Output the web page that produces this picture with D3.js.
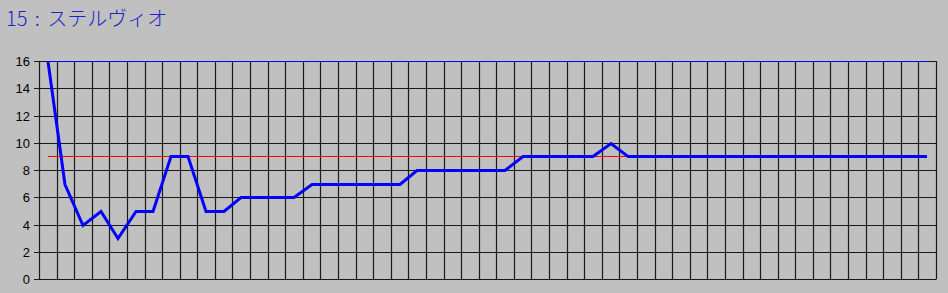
<!DOCTYPE html>
<html>
<head>
<meta charset="utf-8" />
<title>15 : ステルヴィオ</title>
<style type="text/css">
body{
	margin:0;
	background:#c0c0c0;
}
</style>
<script src="https://d3js.org/d3.v7.min.js"></script>
</head>
<body>
<div id="chart"></div>
<script>
	var title = "15 : ステルヴィオ";
	// 順位の推移
	var rank = [16,7,4,5,3,5,5,9,9,5,5,6,6,6,6,7,7,7,7,7,7,8,8,8,8,8,8,9,9,9,9,9,10,
		9,9,9,9,9,9,9,9,9,9,9,9,9,9,9,9,9,9];
	var finalRank = 9;   // 赤線
	var fieldSize = 16;  // 上の細い青線
	var yTicks = [0,2,4,6,8,10,12,14,16];

	var W = 948, H = 293;
	var plotL = 39, plotR = 936, plotT = 61, plotB = 279;

	var SVG = d3.select("#chart")
				.append("svg")
				.attr("width", W)
				.attr("height", H);

	SVG.append("rect")
		.attr("width", W)
		.attr("height", H)
		.attr("fill", "#c0c0c0");

	//タイトル
	SVG.append("text")
		.attr("x", 6)
		.attr("y", 26)
		.attr("fill", "#2222cc")
		.attr("font-family", "'Noto Sans CJK JP', sans-serif")
		.attr("font-weight", 300)
		.attr("font-size", 20)
		.attr("word-spacing", 3)
		.attr("xml:space", "preserve")
		.text(title);

	var x = d3.scaleBand()
		.domain(d3.range(rank.length))
		.range([plotL, plotR]);
	var y = d3.scaleLinear()
		.domain([0, 16])
		.range([plotB, plotT]);
	var cx = function(i){ return Math.round(x(i) + x.bandwidth()/2); };

	//縦の格子
	var vlines = d3.range(rank.length + 1).map(function(i){
		return Math.round(plotL + i * x.step()) + 0.5;
	});
	SVG.selectAll("line.v")
		.data(vlines)
		.enter().append("line")
		.attr("x1", function(d){ return d; })
		.attr("x2", function(d){ return d; })
		.attr("y1", plotT)
		.attr("y2", plotB)
		.attr("stroke", "#1a1a1a")
		.attr("stroke-width", 1.2);

	//横の格子と目盛り
	SVG.selectAll("line.h")
		.data(yTicks)
		.enter().append("line")
		.attr("x1", plotL - 5)
		.attr("x2", plotR + 0.5)
		.attr("y1", function(d){ return Math.round(y(d)) + 0.5; })
		.attr("y2", function(d){ return Math.round(y(d)) + 0.5; })
		.attr("stroke", "#1a1a1a")
		.attr("stroke-width", 1.2);

	SVG.selectAll("text.tick")
		.data(yTicks)
		.enter().append("text")
		.attr("x", 30)
		.attr("y", function(d){ return y(d) + 5; })
		.attr("text-anchor", "end")
		.attr("font-family", "'Liberation Sans', Arial, sans-serif")
		.attr("font-size", 13)
		.attr("fill", "#000")
		.text(function(d){ return d; });

	var line = d3.line()
		.x(function(d, i){ return cx(i); })
		.y(function(d){ return Math.round(y(d)) + 0.5; });

	//出走頭数の線
	SVG.append("path")
		.attr("d", line(rank.map(function(){ return fieldSize; })))
		.attr("fill", "none")
		.attr("stroke", "#0000ff")
		.attr("stroke-width", 1.2);

	//着順の線
	SVG.append("path")
		.attr("d", line(rank.map(function(){ return finalRank; })))
		.attr("fill", "none")
		.attr("stroke", "#ff0000")
		.attr("stroke-width", 1);

	//順位の線
	SVG.append("path")
		.attr("d", line(rank))
		.attr("fill", "none")
		.attr("stroke", "#0000ff")
		.attr("stroke-width", 3)
		.attr("stroke-linejoin", "miter");
</script>
</body>
</html>
